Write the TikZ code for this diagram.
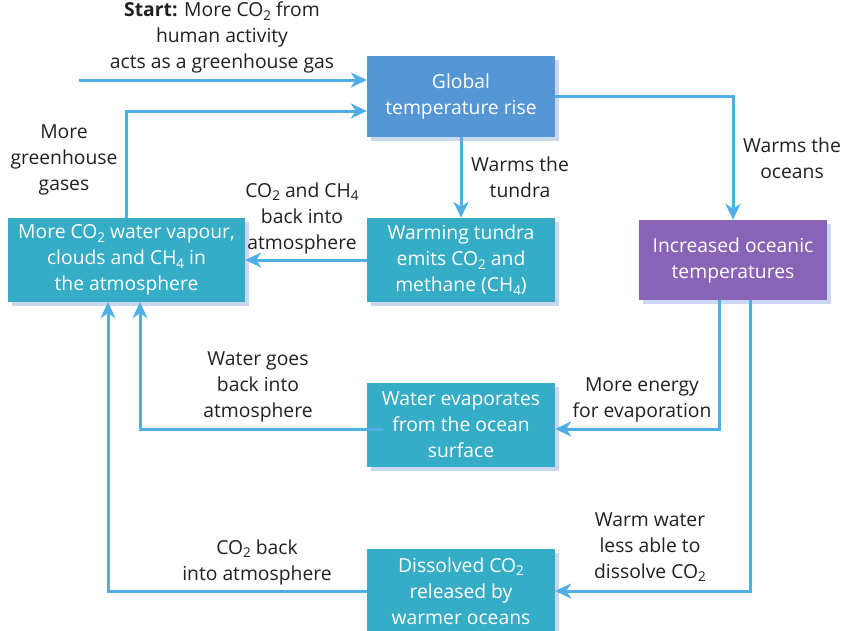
\documentclass[tikz,border=0pt]{standalone}
\usepackage{fontspec}
\usepackage{graphicx}
\setmainfont{Open Sans}
\usetikzlibrary{arrows.meta,shadows}
\definecolor{gblue}{HTML}{5596D4}
\definecolor{teal2}{HTML}{35ADC6}
\definecolor{purp}{HTML}{8964B6}
\definecolor{shad}{HTML}{C9D7F0}
\definecolor{arrc}{HTML}{4FAEE6}
\definecolor{txt}{HTML}{231F20}
\newcommand\subs[1]{\raisebox{-0.35ex}{\fontsize{13.5pt}{13pt}\selectfont #1}}
\begin{document}
\begin{tikzpicture}[x=1pt,y=-1pt,
  every node/.style={font=\fontsize{19.3pt}{26pt}\selectfont, align=center, inner sep=0pt},
  boxx/.style={rectangle, minimum width=188pt, minimum height=84pt, text=white,
    general shadow={fill=shad, shadow xshift=4pt, shadow yshift=-4pt}},
  lbl/.style={text=txt},
  arr/.style={draw=arrc, line width=3pt, -{Stealth[length=16pt,width=15pt,inset=5pt]}},
]
\useasboundingbox (0,0) rectangle (847,630);
\begin{scope}
\clip (0,0) rectangle (847,630);
\node[boxx, fill=gblue, minimum height=81pt] (glob) at (461,96.5) {Global\\temperature rise};
\node[boxx, fill=teal2] (tund) at (461,260) {Warming tundra\\emits CO\subs{2} and\\methane (CH\subs{4})};
\node[boxx, fill=teal2, minimum width=237pt] (more) at (126.5,260) {More CO\subs{2} water vapour,\\clouds and CH\subs{4} in\\the atmosphere};
\node[boxx, fill=purp, minimum height=80pt] (ocean) at (733,260) {Increased oceanic\\temperatures};
\node[boxx, fill=teal2] (evap) at (461,425) {Water evaporates\\from the ocean\\surface};
\node[boxx, fill=teal2] (diss) at (461,591) {Dissolved CO\subs{2}\\released by\\warmer oceans};
\end{scope}

\coordinate (s) at (79,80);
\draw[arr] (s) -- (s -| glob.west);
\draw[arr] ([xshift=-0.5pt]more.north) |- ([yshift=-14.5pt]glob.west);
\draw[arr] (glob.south) -- (tund.north);
\draw[arr] (glob.east) -| (ocean.north);
\draw[arr] (tund.west) -- (more.east);
\draw[arr] ([xshift=-14pt]ocean.south) |- ([yshift=-4pt]evap.east);
\draw[arr] ([xshift=17pt]ocean.south) |- (diss.east);
\draw[arr] ([xshift=16pt,yshift=-4pt]evap.west) -| ([xshift=13.5pt]more.south);
\draw[arr] (diss.west) -| ([xshift=-18.5pt]more.south);

\node[lbl] (lstart) at (222,37.5) {\textbf{Start:} More CO\subs{2} from\\human activity\\acts as a greenhouse gas};
\node[lbl] (lgh) at (64,160) {More\\greenhouse\\gases};
\node[lbl] (lco2ch4) at (302,218) {CO\subs{2} and CH\subs{4}\\back into\\atmosphere};
\node[lbl] (lwt) at (520,177) {Warms the\\tundra};
\node[lbl] (lwo) at (792,158) {Warms the\\oceans};
\node[lbl] (lwg) at (258,387) {Water goes\\back into\\atmosphere};
\node[lbl] (len) at (642,400) {More energy\\for evaporation};
\node[lbl] (lww) at (650,547) {Warm water\\less able to\\dissolve CO\subs{2}};
\node[lbl] (lcb) at (257,562) {CO\subs{2} back\\into atmosphere};
\end{tikzpicture}
\end{document}
